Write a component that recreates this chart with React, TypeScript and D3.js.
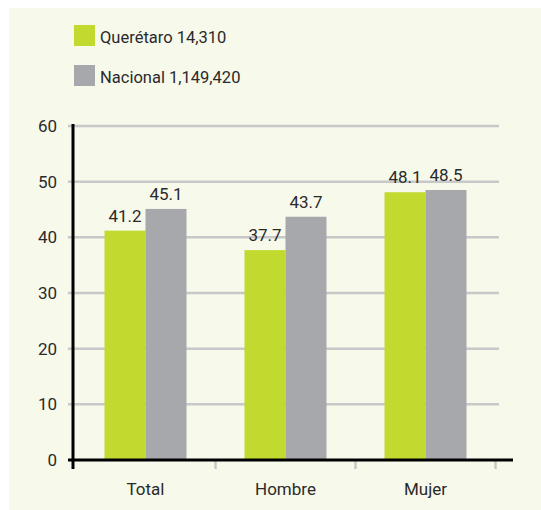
import React, { useEffect, useRef } from "react";
import * as d3 from "d3";

const categories = ["Total", "Hombre", "Mujer"];
const seriesNames = ["Querétaro 14,310", "Nacional 1,149,420"];
const queretaro = [41.2, 37.7, 48.1];
const nacional = [45.1, 43.7, 48.5];
const yTicks = [0, 10, 20, 30, 40, 50, 60];
const colors = ["#c2d92f", "#a7a8ab"];

const App = () => {
  const ref = useRef<SVGSVGElement>(null);

  useEffect(() => {
    const svg = d3.select(ref.current);
    svg.selectAll("*").remove();
    const font = "Roboto, 'DejaVu Sans', sans-serif";
    const ink = "#2a2a2a";

    // fond crème
    svg.append("rect")
      .attr("x", 9).attr("y", 8)
      .attr("width", 532).attr("height", 502)
      .attr("fill", "#f7f9ea");

    const y = d3.scaleLinear().domain([0, 60]).range([460, 126]);
    const x = d3.scaleBand().domain(categories).range([75.5, 495.5]);
    const inner = d3.scaleBand().domain(["0", "1"]).range([0, 82]);
    const series = [queretaro, nacional];
    const barX = (i: number, si: number) =>
      (x(categories[i]) as number) + x.bandwidth() / 2 - 41 + (inner(String(si)) as number);

    // grille
    svg.append("g").selectAll("line")
      .data(yTicks.filter(d => d > 0))
      .join("line")
      .attr("x1", 68).attr("x2", 499)
      .attr("y1", d => y(d)).attr("y2", d => y(d))
      .attr("stroke", "#c8c8c8").attr("stroke-width", 2.5);

    // ticks gris sous l'axe x
    svg.append("g").selectAll("line")
      .data(categories)
      .join("line")
      .attr("x1", d => (x(d) as number) + x.bandwidth())
      .attr("x2", d => (x(d) as number) + x.bandwidth())
      .attr("y1", 460).attr("y2", 469)
      .attr("stroke", "#c8c8c8").attr("stroke-width", 2.5);

    // barres
    series.forEach((vals, si) => {
      const g = svg.append("g");
      g.selectAll("rect")
        .data(vals)
        .join("rect")
        .attr("x", (d, i) => barX(i, si))
        .attr("y", d => y(d))
        .attr("width", inner.bandwidth())
        .attr("height", d => y(0) - y(d))
        .attr("fill", colors[si]);
      g.selectAll("text")
        .data(vals)
        .join("text")
        .attr("x", (d, i) => barX(i, si) + inner.bandwidth() / 2)
        .attr("y", d => y(d) - 9)
        .attr("text-anchor", "middle")
        .attr("font-family", font).attr("font-size", 17)
        .attr("fill", ink)
        .text(d => d.toFixed(1));
    });

    // axes
    svg.append("line")
      .attr("x1", 73).attr("x2", 73).attr("y1", 124).attr("y2", 469)
      .attr("stroke", "#000").attr("stroke-width", 3);
    svg.append("line")
      .attr("x1", 68).attr("x2", 513).attr("y1", 460).attr("y2", 460)
      .attr("stroke", "#000").attr("stroke-width", 3);

    svg.append("g").selectAll("text")
      .data(yTicks)
      .join("text")
      .attr("x", 57).attr("y", d => y(d) + 6)
      .attr("text-anchor", "end")
      .attr("font-family", font).attr("font-size", 17)
      .attr("fill", ink)
      .text(d => d);

    svg.append("g").selectAll("text")
      .data(categories)
      .join("text")
      .attr("x", d => (x(d) as number) + x.bandwidth() / 2)
      .attr("y", 495)
      .attr("text-anchor", "middle")
      .attr("font-family", font).attr("font-size", 17)
      .attr("fill", ink)
      .text(d => d);

    // légende
    seriesNames.forEach((name, i) => {
      svg.append("rect")
        .attr("x", 74).attr("y", 25 + i * 40)
        .attr("width", 21).attr("height", 21)
        .attr("fill", colors[i]);
      svg.append("text")
        .attr("x", 100).attr("y", 43 + i * 40)
        .attr("font-family", font).attr("font-size", 16.5)
        .attr("fill", ink)
        .text(name);
    });
  }, []);

  return (
    <svg ref={ref} width={541} height={510}
      style={{ position: "absolute", left: 0, top: 0 }} />
  );
};

export default App;
